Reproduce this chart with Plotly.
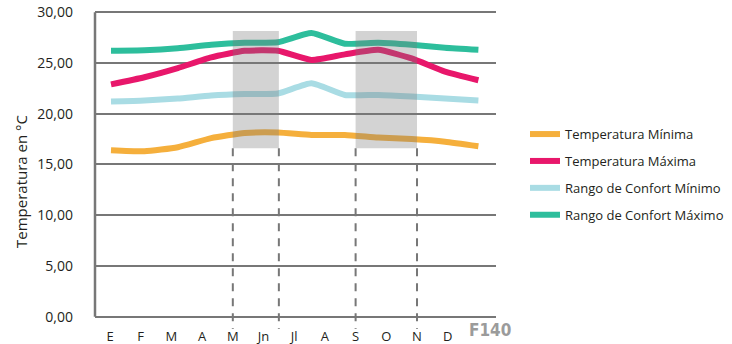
import plotly.graph_objects as go

# ---- data ----
months = ["E", "F", "M", "A", "M", "Jn", "Jl", "A", "S", "O", "N", "D"]
month_pos = list(range(len(months)))
temp_min = [16.4, 16.3, 16.7, 17.6, 18.1, 18.15, 17.9, 17.9, 17.65, 17.5, 17.25, 16.8]
temp_max = [22.9, 23.6, 24.5, 25.55, 26.2, 26.2, 25.3, 25.85, 26.3, 25.45, 24.15, 23.3]
confort_min = [21.2, 21.3, 21.5, 21.8, 21.95, 22.0, 23.0, 21.85, 21.85, 21.7, 21.5, 21.3]
confort_max = [26.2, 26.25, 26.45, 26.8, 27.0, 27.05, 27.95, 26.9, 27.0, 26.8, 26.5, 26.3]
series_names = ["Temperatura Mínima", "Temperatura Máxima",
                "Rango de Confort Mínimo", "Rango de Confort Máximo"]
y_ticks = [0, 5, 10, 15, 20, 25, 30]
y_tick_labels = ["0,00", "5,00", "10,00", "15,00", "20,00", "25,00", "30,00"]
# shaded periods (in month-label units) and their vertical extent (°C)
shade_periods = [(4, 5.5), (8, 10)]
shade_low, shade_high = 16.6, 28.15

# ---- styles ----
colors = ["#F5AF3C", "#E8176B", "#A9DCE4", "#2DBE9C"]
GRID = "#777777"
FONT = "Open Sans, Noto Sans, sans-serif"
TEXT = "#231F20"

fig = go.Figure()
series = [temp_min, temp_max, confort_min, confort_max]
for name, vals, col in zip(series_names, series, colors):
    fig.add_trace(go.Scatter(
        x=month_pos, y=vals, name=name, mode="lines", xaxis="x2",
        line=dict(color=col, width=6, shape="spline", smoothing=0.5),
        legendgroup=name, hoverinfo="skip",
    ))

Y_MIN, Y_MAX = -1.21, 30.42

shapes = []
for (a, b) in shade_periods:
    shapes.append(dict(type="rect", xref="x", yref="y", x0=a, x1=b,
                       y0=shade_low, y1=shade_high, layer="above",
                       fillcolor="rgba(120,120,120,0.33)", line=dict(width=0)))
    for xv in (a, b):
        shapes.append(dict(type="line", xref="x", yref="y", x0=xv, x1=xv,
                           y0=shade_low, y1=Y_MIN, layer="above",
                           line=dict(color=GRID, width=2, dash="8px,7px")))
# left axis line from 0 to 30
shapes.append(dict(type="line", xref="paper", yref="y", x0=0, x1=0,
                   y0=y_ticks[0], y1=y_ticks[-1], layer="above",
                   line=dict(color=GRID, width=2.5)))

fig.update_layout(
    width=732, height=344,
    margin=dict(l=95, r=236, t=8, b=15),
    paper_bgcolor="white", plot_bgcolor="white",
    font=dict(family=FONT, color=TEXT, size=13),
    showlegend=True,
    legend=dict(xref="container", x=0.7172, y=0.481, xanchor="left",
                yanchor="middle",
                font=dict(family=FONT, size=13, color=TEXT),
                traceorder="grouped", tracegroupgap=7,
                bgcolor="rgba(0,0,0,0)"),
    xaxis=dict(range=[-0.489, 12.573], tickmode="array", tickvals=month_pos,
               ticktext=months, showgrid=False, zeroline=False, showline=False,
               ticks="", ticklabelstandoff=-2,
               tickfont=dict(size=13, color=TEXT), fixedrange=True,
               automargin=False),
    xaxis2=dict(range=[-0.479, 11.527], overlaying="x", visible=False,
                fixedrange=True, automargin=False),
    yaxis=dict(range=[Y_MIN, Y_MAX], tickmode="array", tickvals=y_ticks,
               ticktext=y_tick_labels, showgrid=True, gridcolor=GRID,
               gridwidth=2, zeroline=False, showline=False, ticks="",
               ticklabelstandoff=21, tickfont=dict(size=14, color=TEXT),
               fixedrange=True, automargin=False),
    shapes=shapes,
    annotations=[
        dict(text="Temperatura en °C", xref="paper", yref="paper",
             x=-0.1845, y=0.458, xanchor="center", yanchor="middle",
             textangle=-90, showarrow=False,
             font=dict(family=FONT, size=15, color=TEXT)),
        dict(text="<b>F140</b>", xref="paper", yref="paper",
             x=0.928, y=-0.003, xanchor="left", yanchor="middle",
             showarrow=False,
             font=dict(family="DejaVu Sans Condensed, sans-serif",
                       size=17, color="#9B9B9B")),
    ],
)

fig.write_html(
    "out.html",
    config={"displayModeBar": False},
    post_script="document.body.style.margin='0';document.body.style.padding='0';",
)
